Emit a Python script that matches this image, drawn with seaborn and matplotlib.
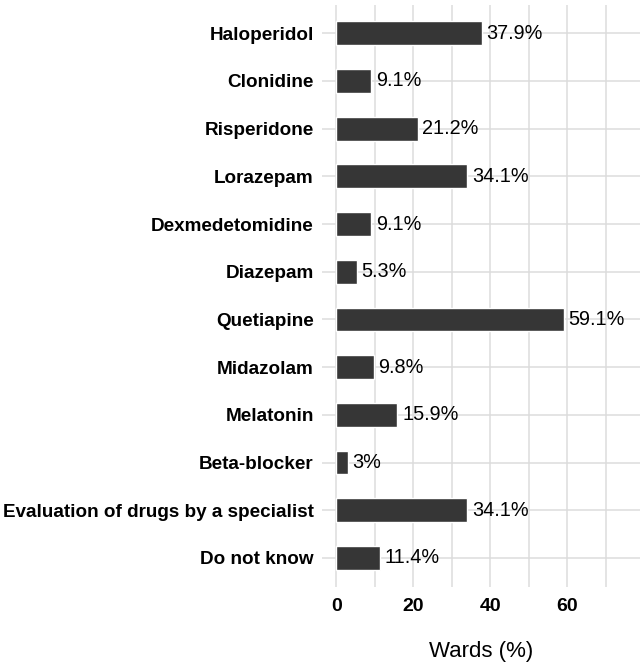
import pandas as pd
import matplotlib.pyplot as plt
import seaborn as sns

drugs = ["Haloperidol", "Clonidine", "Risperidone", "Lorazepam", "Dexmedetomidine",
         "Diazepam", "Quetiapine", "Midazolam", "Melatonin", "Beta-blocker",
         "Evaluation of drugs by a specialist", "Do not know"]
pct = [37.9, 9.1, 21.2, 34.1, 9.1, 5.3, 59.1, 9.8, 15.9, 3.0, 34.1, 11.4]
labels = ["37.9%", "9.1%", "21.2%", "34.1%", "9.1%", "5.3%", "59.1%", "9.8%",
          "15.9%", "3%", "34.1%", "11.4%"]

df = pd.DataFrame({"drug": drugs, "pct": pct})

sns.set_style("white")
plt.rcParams["font.family"] = ["Liberation Sans", "DejaVu Sans"]
plt.rcParams["text.color"] = "black"
plt.rcParams["axes.labelcolor"] = "black"
plt.rcParams["xtick.color"] = "black"
plt.rcParams["ytick.color"] = "black"

fig = plt.figure(figsize=(6.44, 6.70), dpi=100)
ax = fig.add_axes([0.5, 1 - 586.6 / 670, 0.494, 582 / 670])

sns.barplot(data=df, x="pct", y="drug", order=drugs, color="#363636",
            saturation=1, width=0.5, ax=ax)

for i, (v, t) in enumerate(zip(pct, labels)):
    ax.text(v + 1.2, i, t, va="center", ha="left", fontsize=14.3, color="black")

ax.set_xlim(-3.7, 79)
ax.set_ylim(11.6, -0.6)
ax.set_xticks([0, 20, 40, 60])
ax.set_xticks([10, 30, 50, 70], minor=True)
ax.grid(True, which="both", axis="both", color="#dcdcdc", linewidth=1.1)
ax.set_axisbelow(True)
for s in ax.spines.values():
    s.set_visible(False)
ax.tick_params(axis="both", which="both", length=0)
ax.tick_params(axis="x", pad=8)
ax.tick_params(axis="y", pad=6)

for lab in ax.get_xticklabels():
    lab.set_fontweight("bold")
    lab.set_fontsize(14)
for lab in ax.get_yticklabels():
    lab.set_fontweight("bold")
    lab.set_fontsize(13.6)

ax.set_xlabel("Wards (%)", fontsize=16, labelpad=19)
ax.set_ylabel("")

plt.savefig("out.png", dpi=100)
